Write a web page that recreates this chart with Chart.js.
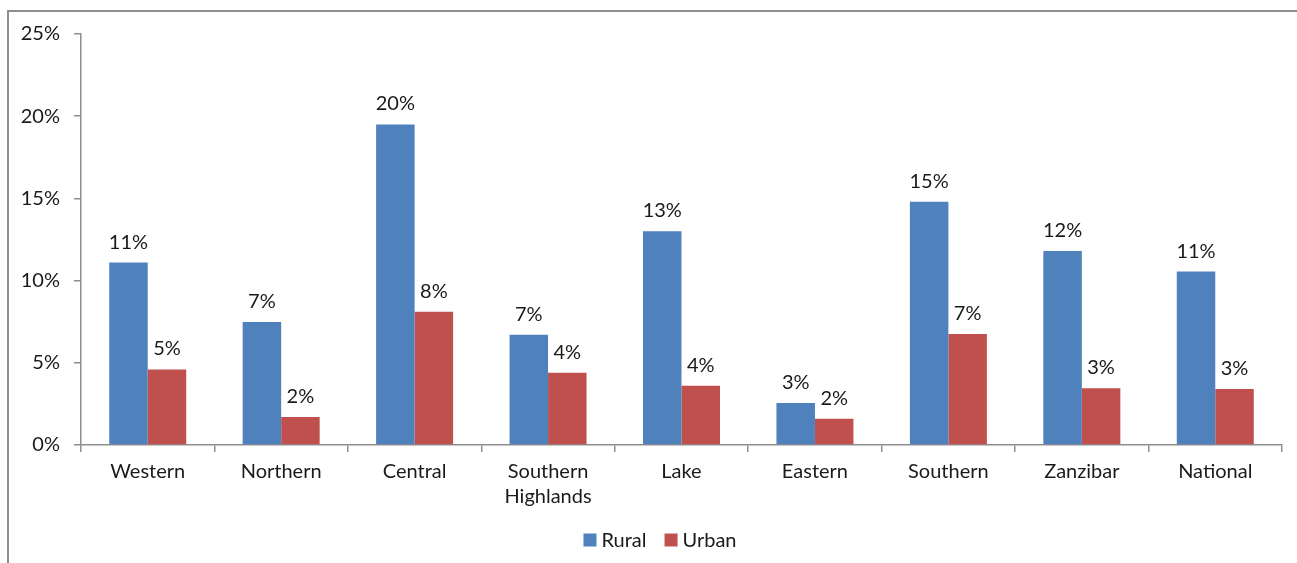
<!DOCTYPE html>
<html>
<head>
<meta charset="utf-8">
<script src="https://cdn.jsdelivr.net/npm/chart.js@4.4.1/dist/chart.umd.min.js"></script>
<style>
  html, body { margin: 0; padding: 0; background: #fff; overflow: hidden; }
  #frame { position: absolute; left: 7px; top: 10px; width: 1400px; height: 700px; border: 2px solid #8e8e8e; box-sizing: border-box; }
  #wrap { position: absolute; left: 0; top: 0; width: 1297px; height: 563px; }
</style>
</head>
<body>
<div id="frame"></div>
<div id="wrap"><canvas id="grafico" width="1297" height="563"></canvas></div>
<script>
// categorias e valores (em %)
const regioes = ['Western', 'Northern', 'Central', ['Southern', 'Highlands'], 'Lake', 'Eastern', 'Southern', 'Zanzibar', 'National'];
const rural = [11.1, 7.48, 19.5, 6.7, 13.0, 2.55, 14.8, 11.8, 10.55];
const urban = [4.6, 1.7, 8.1, 4.4, 3.6, 1.6, 6.75, 3.45, 3.4];
const yTicks = [0, 5, 10, 15, 20, 25];

const fonte = "'Lato', 'Open Sans', sans-serif";

// rotulos de valor acima das barras
const rotulosPlugin = {
    id: 'rotulos',
    afterDatasetsDraw(chart) {
        const ctx = chart.ctx;
        ctx.save();
        ctx.font = '20px ' + fonte;
        ctx.fillStyle = '#1a1a1a';
        ctx.textAlign = 'center';
        ctx.textBaseline = 'alphabetic';
        chart.data.datasets.forEach((ds, i) => {
            chart.getDatasetMeta(i).data.forEach((bar, j) => {
                ctx.fillText(Math.round(ds.data[j]) + '%', bar.x, bar.y - 14);
            });
        });
        ctx.restore();
    }
};

// legenda desenhada a mao (caixa + texto mais juntos)
const legendaPlugin = {
    id: 'legenda',
    afterDraw(chart) {
        const ctx = chart.ctx;
        const caixa = 13, gap = 5, espaco = 18, centroX = 660, centroY = 540;
        ctx.save();
        ctx.font = '20px ' + fonte;
        ctx.textBaseline = 'middle';
        const larguras = chart.data.datasets.map(ds => ctx.measureText(ds.label).width);
        let total = 0;
        larguras.forEach((w, i) => { total += caixa + gap + w + (i > 0 ? espaco : 0); });
        let x = centroX - total / 2;
        chart.data.datasets.forEach((ds, i) => {
            ctx.fillStyle = ds.backgroundColor;
            ctx.fillRect(x, centroY - caixa / 2, caixa, caixa);
            ctx.fillStyle = '#1a1a1a';
            ctx.fillText(ds.label, x + caixa + gap, centroY + 1);
            x += caixa + gap + larguras[i] + espaco;
        });
        ctx.restore();
    }
};

const ctx = document.getElementById('grafico').getContext('2d');
new Chart(ctx, {
    type: 'bar',
    data: {
        labels: regioes,
        datasets: [
            { label: 'Rural', data: rural, backgroundColor: '#4F81BD', borderWidth: 0 },
            { label: 'Urban', data: urban, backgroundColor: '#C0504D', borderWidth: 0 }
        ]
    },
    options: {
        responsive: false,
        animation: false,
        datasets: { bar: { categoryPercentage: 0.577, barPercentage: 1.0 } },
        layout: { padding: { top: 34, right: 15, bottom: 50, left: 0 } },
        plugins: {
            tooltip: { enabled: false },
            legend: { display: false }
        },
        scales: {
            x: {
                grid: { display: true, drawOnChartArea: false, offset: true, tickLength: 7, color: '#8e8e8e', lineWidth: 1.5 },
                border: { display: true, color: '#8e8e8e', width: 1.5 },
                ticks: { font: { size: 20, family: fonte, lineHeight: 1.25 }, color: '#1a1a1a', padding: 7, maxRotation: 0, autoSkip: false },
                afterFit(scale) { scale.height = 68; }
            },
            y: {
                min: 0,
                max: 25,
                afterBuildTicks(scale) { scale.ticks = yTicks.map(v => ({ value: v })); },
                grid: { display: true, drawOnChartArea: false, tickLength: 7, color: '#8e8e8e', lineWidth: 1.5 },
                border: { display: true, color: '#8e8e8e', width: 1.5 },
                ticks: { font: { size: 20, family: fonte }, color: '#1a1a1a', padding: 14, callback: v => v + '%' },
                afterFit(scale) { scale.width = 81; }
            }
        }
    },
    plugins: [rotulosPlugin, legendaPlugin]
});
</script>
</body>
</html>
